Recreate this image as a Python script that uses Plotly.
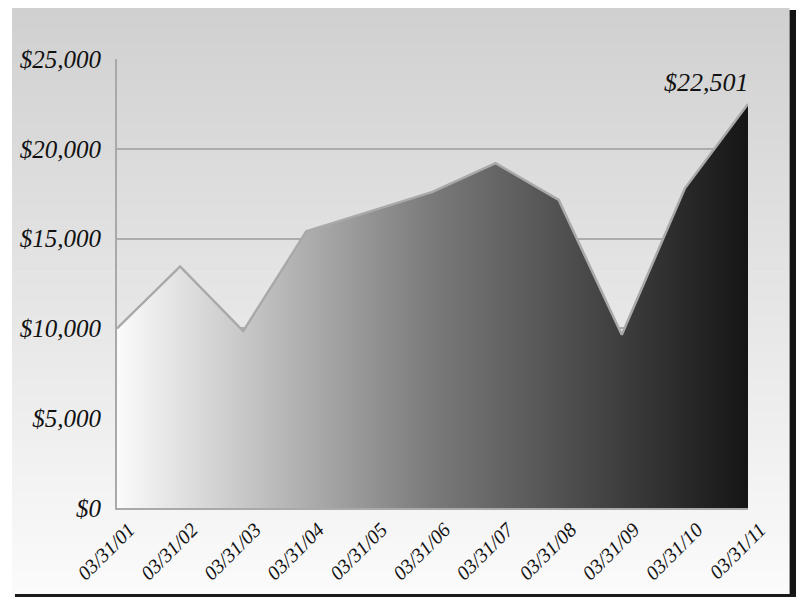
import plotly.graph_objects as go

# ---- data ----
dates = ["03/31/01", "03/31/02", "03/31/03", "03/31/04", "03/31/05", "03/31/06",
         "03/31/07", "03/31/08", "03/31/09", "03/31/10", "03/31/11"]
values = [10000, 13450, 9850, 15400, 16500, 17600, 19200, 17150, 9650, 17800, 22501]
y_ticks = [0, 5000, 10000, 15000, 20000, 25000]
y_ticktext = ["$0", "$5,000", "$10,000", "$15,000", "$20,000", "$25,000"]
end_label = "$22,501"

OFF = 8  # page body margin
W, H = 804 - OFF, 605 - 2 * OFF
L, T = 111 - OFF, 59 - OFF
R = W - (748 - OFF)
B = H - (508 - OFF)
pw, ph = W - L - R, H - T - B


def px_to_paper_x(px):
    return (px - OFF - L) / pw


def px_to_paper_y(py):
    return (H - B - (py - OFF)) / ph


xs = list(range(len(dates)))

fig = go.Figure()
fig.add_trace(go.Scatter(
    x=xs, y=values, mode="lines", fill="tozeroy",
    line=dict(color="#a9a9a9", width=2.5),
    fillgradient=dict(type="horizontal",
                      colorscale=[[0, "#fbfbfb"], [0.5, "#7a7a7a"], [1, "#151515"]]),
    hoverinfo="skip", showlegend=False,
))

fig.add_annotation(x=xs[-1], y=values[-1], text=end_label, showarrow=False,
                   xanchor="right", yanchor="bottom", yshift=5, xshift=3,
                   font=dict(family="Liberation Serif", size=26, style="italic", color="#111111"))

# background panel gradient (strips)
shapes = []
top_px, bot_px = 7, 594
left_px, right_px = 5, 790
n = 80
c_top, c_bot = 0xd0, 0xfb
for i in range(n):
    y0 = top_px + (bot_px - top_px) * i / n
    y1 = top_px + (bot_px - top_px) * (i + 1) / n + 0.6
    c = int(round(c_top + (c_bot - c_top) * (i + 0.5) / n))
    col = f"rgb({c},{c},{c})"
    shapes.append(dict(type="rect", xref="paper", yref="paper", layer="below",
                       x0=px_to_paper_x(left_px), x1=px_to_paper_x(right_px),
                       y0=px_to_paper_y(y1), y1=px_to_paper_y(y0),
                       fillcolor=col, line=dict(width=0)))
# shadow right and bottom
shapes.append(dict(type="rect", xref="paper", yref="paper", layer="below",
                   x0=px_to_paper_x(790), x1=px_to_paper_x(812),
                   y0=px_to_paper_y(612), y1=px_to_paper_y(10),
                   fillcolor="#141414", line=dict(width=0)))
shapes.append(dict(type="rect", xref="paper", yref="paper", layer="below",
                   x0=px_to_paper_x(8), x1=px_to_paper_x(812),
                   y0=px_to_paper_y(612), y1=px_to_paper_y(594),
                   fillcolor="#1a1a1a", line=dict(width=0)))

fig.update_layout(
    width=W, height=H,
    margin=dict(l=L, r=R, t=T, b=B, pad=0),
    paper_bgcolor="white", plot_bgcolor="rgba(0,0,0,0)",
    shapes=shapes,
    xaxis=dict(
        range=[0, len(dates) - 1], tickmode="array", tickvals=xs, ticktext=dates,
        tickangle=-45, showgrid=False, zeroline=False,
        showline=True, linecolor="#a9a9a9", linewidth=2,
        ticks="", ticklabelshift=12,
        tickfont=dict(family="Liberation Serif", size=20, style="italic", color="#111111"),
    ),
    yaxis=dict(
        range=[0, 25000], tickmode="array", tickvals=y_ticks, ticktext=y_ticktext,
        showgrid=True, gridcolor="#acacac", gridwidth=1.5, zeroline=False,
        showline=True, linecolor="#a9a9a9", linewidth=2,
        ticks="outside", ticklen=9, tickcolor="rgba(0,0,0,0)",
        tickfont=dict(family="Liberation Serif", size=25, style="italic", color="#111111"),
    ),
)

fig.write_html("out.html")
